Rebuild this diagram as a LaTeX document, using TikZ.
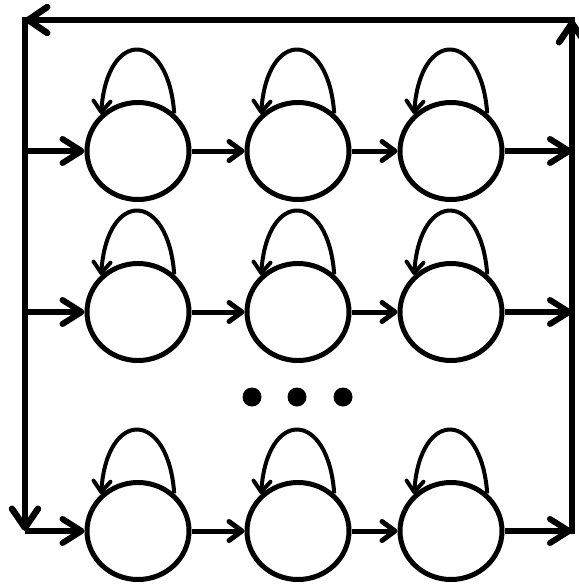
\documentclass[tikz,border=0pt]{standalone}
\usetikzlibrary{arrows.meta,shapes.geometric}
\begin{document}
\begin{tikzpicture}[x=1pt,y=-1pt,
	state/.style={draw,ellipse,line width=5pt,minimum width=102pt,minimum height=97pt,inner sep=0pt},
	frame/.style={line width=6.5pt,line cap=rect,-{Straight Barb[round,length=19pt,width=26pt]}},
	side/.style={line width=6pt,-{Straight Barb[round,length=19pt,width=24pt]}},
	link/.style={line width=5pt,-{Straight Barb[round,length=13pt,width=19pt]}},
	selfloop/.style={line width=4pt,-{Straight Barb[round,length=11pt,width=17pt]}}]
	\useasboundingbox (0,0) rectangle (578,586);
	% outer rail
	\coordinate (tl) at (25,20);
	\coordinate (tr) at (572,20);
	\coordinate (l1) at (25,151);
	\coordinate (l2) at (25,312);
	\coordinate (l3) at (25,531);
	\coordinate (r1) at (572,151);
	\coordinate (r2) at (572,312);
	\coordinate (r3) at (572,531);
	% states
	\node[state] (a1) at (138,151) {};
	\node[state] (a2) at (298,151) {};
	\node[state] (a3) at (451,151) {};
	\node[state] (b1) at (138,312) {};
	\node[state] (b2) at (298,312) {};
	\node[state] (b3) at (451,312) {};
	\node[state] (c1) at (138,531) {};
	\node[state] (c2) at (298,531) {};
	\node[state] (c3) at (451,531) {};
	% rows
	\foreach \r in {a,b,c}{
		\draw[link] (\r1) -- (\r2);
		\draw[link] (\r2) -- (\r3);
		\foreach \c in {1,2,3}
			\draw[selfloop] (\r\c.46) .. controls +(-6,-84) and +(6,-86) .. (\r\c.135);
	}
	\draw[side] (l1) -- (a1);
	\draw[side] (l2) -- (b1);
	\draw[side] (l3) -- (c1);
	\draw[side] (a3) -- (r1);
	\draw[side] (b3) -- (r2);
	\draw[side] (c3) -- (r3);
	% feedback
	\draw[frame] (r3) -- (tr);
	\draw[frame] (tr) -- (tl);
	\draw[frame] (tl) -- (l3);
	% dots
	\fill (252,397) circle (9.5) (297,397) circle (9.5) (343,397) circle (9.5);
\end{tikzpicture}
\end{document}
